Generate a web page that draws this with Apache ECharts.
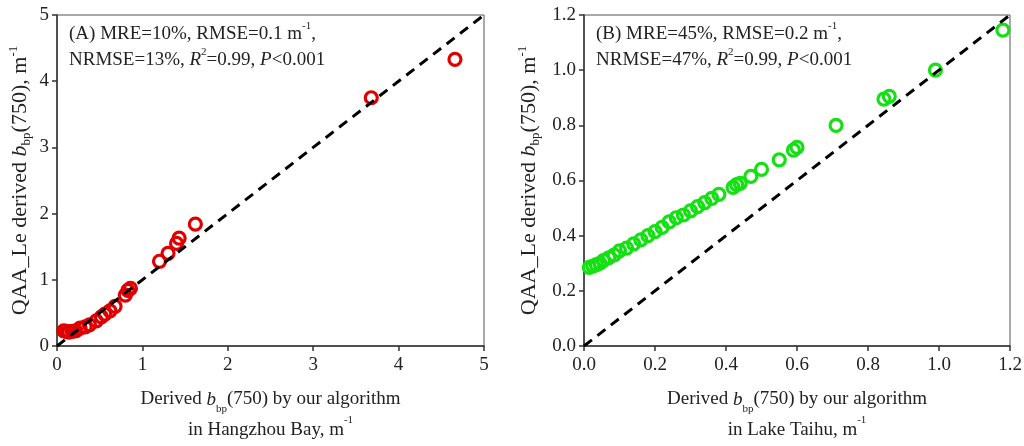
<!DOCTYPE html>
<html>
<head>
<meta charset="utf-8">
<script src="https://cdn.jsdelivr.net/npm/echarts@6/dist/echarts.min.js"></script>
<style>
  html, body { margin: 0; padding: 0; background: #fff; }
  #chart { width: 1024px; height: 446px; }
</style>
</head>
<body>
<div id="chart"></div>
<script>
// Hangzhou Bay (panel A)
var hzX = [0.08, 0.11, 0.14, 0.18, 0.22, 0.27, 0.33, 0.38, 0.46, 0.52, 0.56, 0.62, 0.68, 0.80, 0.83, 0.86, 1.20, 1.30, 1.40, 1.43, 1.62, 3.68, 4.66];
var hzY = [0.23, 0.22, 0.21, 0.22, 0.23, 0.27, 0.29, 0.32, 0.38, 0.44, 0.48, 0.53, 0.60, 0.77, 0.84, 0.87, 1.28, 1.40, 1.55, 1.63, 1.84, 3.75, 4.33];
// Lake Taihu (panel B)
var thX = [0.015, 0.025, 0.035, 0.045, 0.055, 0.07, 0.085, 0.10, 0.12, 0.14, 0.16, 0.18, 0.20, 0.22, 0.24, 0.26, 0.28, 0.30, 0.32, 0.34, 0.36, 0.38, 0.42, 0.43, 0.44, 0.47, 0.50, 0.55, 0.59, 0.60, 0.71, 0.845, 0.86, 0.99, 1.18];
var thY = [0.285, 0.29, 0.295, 0.30, 0.31, 0.32, 0.33, 0.345, 0.355, 0.37, 0.385, 0.40, 0.415, 0.43, 0.45, 0.465, 0.475, 0.49, 0.505, 0.52, 0.535, 0.55, 0.575, 0.585, 0.59, 0.615, 0.64, 0.675, 0.71, 0.72, 0.80, 0.895, 0.905, 1.0, 1.145];
var oneToOneA = [[0, 0], [5, 5]];
var oneToOneB = [[0, 0], [1.2, 1.2]];

function pairs(xs, ys) {
  var out = [];
  for (var i = 0; i < xs.length; i++) out.push([xs[i], ys[i]]);
  return out;
}

var serif = '"Liberation Serif", "DejaVu Serif", serif';
function rich(size, lh) {
  return {
    t: { fontFamily: serif, fontSize: size, fontWeight: 'normal', color: '#222', lineHeight: lh },
    i: { fontFamily: serif, fontSize: size, fontWeight: 'normal', fontStyle: 'italic', color: '#222', lineHeight: lh },
    sub: { fontFamily: serif, fontSize: Math.round(size * 0.6), fontWeight: 'normal', verticalAlign: 'bottom', lineHeight: lh, color: '#222' },
    sup: { fontFamily: serif, fontSize: Math.round(size * 0.6), fontWeight: 'normal', verticalAlign: 'top', lineHeight: lh, color: '#222' }
  };
}

function axisStyle(fmt, margin) {
  return {
    axisLine: { show: true, onZero: false, lineStyle: { color: '#333', width: 1.5 } },
    axisTick: { show: true, inside: false, length: 5, lineStyle: { color: '#333', width: 1.5 } },
    splitLine: { show: false },
    axisLabel: { fontFamily: serif, fontSize: 19, color: '#222', margin: margin, formatter: fmt }
  };
}
var fmtInt = function (v) { return String(v); };
var fmtOne = function (v) { return v.toFixed(1); };

var chart = echarts.init(document.getElementById('chart'));

var option = {
  backgroundColor: '#fff',
  animation: false,
  title: [
    {
      left: 64, top: 16,
      text: '{t|(A) MRE=10%, RMSE=0.1 m}{sup|-1}{t|,}\n{t|NRMSE=13%, }{i|R}{sup|2}{t|=0.99, }{i|P}{t|<0.001}',
      textStyle: { fontFamily: serif, fontSize: 19, fontWeight: 'normal', color: '#222', rich: rich(19, 26) }
    },
    {
      left: 591, top: 16,
      text: '{t|(B) MRE=45%, RMSE=0.2 m}{sup|-1}{t|,}\n{t|NRMSE=47%, }{i|R}{sup|2}{t|=0.99, }{i|P}{t|<0.001}',
      textStyle: { fontFamily: serif, fontSize: 19, fontWeight: 'normal', color: '#222', rich: rich(19, 26) }
    }
  ],
  grid: [
    { left: 57, top: 15, width: 427, height: 331, show: true, borderColor: '#555', borderWidth: 1, containLabel: false, outerBoundsMode: 'none' },
    { left: 584, top: 15, width: 426, height: 331, show: true, borderColor: '#555', borderWidth: 1, containLabel: false, outerBoundsMode: 'none' }
  ],
  xAxis: [
    Object.assign(axisStyle(fmtInt, 10), {
      gridIndex: 0, type: 'value', min: 0, max: 5, interval: 1,
      name: '{t|Derived }{i|b}{sub|bp}{t|(750) by our algorithm}\n{t|in Hangzhou Bay, m}{sup|-1}',
      nameLocation: 'middle', nameGap: 38,
      nameTextStyle: { fontFamily: serif, fontSize: 19, color: '#222', lineHeight: 31, rich: rich(19, 31) }
    }),
    Object.assign(axisStyle(fmtOne, 10), {
      gridIndex: 1, type: 'value', min: 0, max: 1.2, interval: 0.2,
      name: '{t|Derived }{i|b}{sub|bp}{t|(750) by our algorithm}\n{t|in Lake Taihu, m}{sup|-1}',
      nameLocation: 'middle', nameGap: 38,
      nameTextStyle: { fontFamily: serif, fontSize: 19, color: '#222', lineHeight: 31, rich: rich(19, 31) }
    })
  ],
  yAxis: [
    Object.assign(axisStyle(fmtInt, 8), {
      gridIndex: 0, type: 'value', min: 0, max: 5, interval: 1,
      name: '{t|QAA_Le derived }{i|b}{sub|bp}{t|(750), m}{sup|-1}',
      nameLocation: 'middle', nameGap: 24, nameRotate: 90,
      nameTextStyle: { fontFamily: serif, fontSize: 22, color: '#222', rich: rich(22, 26) }
    }),
    Object.assign(axisStyle(fmtOne, 8), {
      gridIndex: 1, type: 'value', min: 0, max: 1.2, interval: 0.2,
      name: '{t|QAA_Le derived }{i|b}{sub|bp}{t|(750), m}{sup|-1}',
      nameLocation: 'middle', nameGap: 42, nameRotate: 90,
      nameTextStyle: { fontFamily: serif, fontSize: 22, color: '#222', rich: rich(22, 26) }
    })
  ],
  series: [
    {
      type: 'line', xAxisIndex: 0, yAxisIndex: 0, data: oneToOneA, symbol: 'none', z: 3,
      lineStyle: { color: '#000', width: 3, type: [10, 7] }
    },
    {
      type: 'scatter', xAxisIndex: 0, yAxisIndex: 0, data: pairs(hzX, hzY), z: 2,
      symbol: 'circle', symbolSize: 12,
      itemStyle: { color: 'rgba(255,255,255,0)', borderColor: '#e00000', borderWidth: 3.2, opacity: 1 }
    },
    {
      type: 'line', xAxisIndex: 1, yAxisIndex: 1, data: oneToOneB, symbol: 'none', z: 3,
      lineStyle: { color: '#000', width: 3, type: [10, 7] }
    },
    {
      type: 'scatter', xAxisIndex: 1, yAxisIndex: 1, data: pairs(thX, thY), z: 2,
      symbol: 'circle', symbolSize: 12,
      itemStyle: { color: 'rgba(255,255,255,0)', borderColor: '#14e014', borderWidth: 3.2, opacity: 1 }
    }
  ]
};
chart.setOption(option);
</script>
</body>
</html>
